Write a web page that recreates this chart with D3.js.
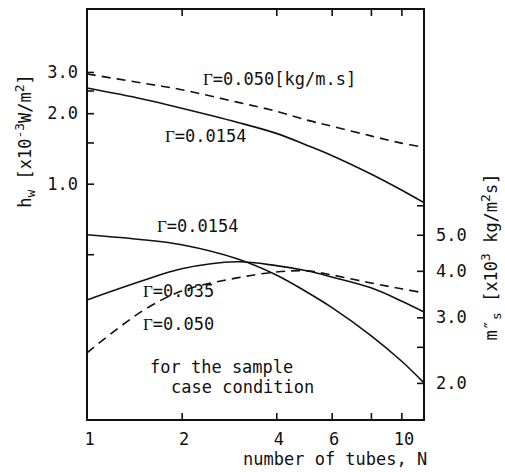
<!DOCTYPE html>
<html>
<head>
<meta charset="utf-8">
<script src="https://cdn.jsdelivr.net/npm/d3@7"></script>
<style>
body { margin: 0; background: #fff; }
svg text { font-family: "DejaVu Sans Mono", monospace; font-size: 17px; fill: #111; }
.gam { font-family: "Liberation Serif", serif; }
</style>
</head>
<body>
<div id="chart"></div>
<script>
// number of tubes N (log axis)
var nTubes = [1, 1.5, 2, 3, 4, 5, 6, 8, 10, 11.8];

// heat transfer coefficient h_w [x10^-3 W/m2], left axis
var hw0154 = [2.56, 2.30, 2.10, 1.83, 1.64, 1.46, 1.32, 1.10, 0.94, 0.83];
var hw050  = [2.94, 2.69, 2.52, 2.23, 2.04, 1.87, 1.76, 1.60, 1.49, 1.43];

// mass flux m''_s [x10^3 kg/m2 s], right axis
var ms0154 = [5.00, 4.85, 4.70, 4.31, 3.90, 3.51, 3.19, 2.68, 2.29, 2.00];
var ms035  = [3.34, 3.76, 4.05, 4.23, 4.13, 4.00, 3.85, 3.60, 3.32, 3.10];
var ms050  = [2.41, 3.12, 3.53, 3.83, 3.97, 4.00, 3.90, 3.71, 3.58, 3.49];

var xTicks = [2, 4, 6, 8, 10];
var xTickLabels = [1, 2, 4, 6, 10];
var hwTicks = [0.5, 1, 1.5, 2, 2.5, 3];
var hwTickLabels = [1, 2, 3];
var msTicks = [2, 2.5, 3, 4, 5, 6];
var msTickLabels = [2, 3, 4, 5];

var dim = { width: 505, height: 472 };
var box = { left: 87, right: 424, top: 9, bottom: 420 };

var svg = d3.select("#chart").append("svg")
    .attr("width", dim.width)
    .attr("height", dim.height);

var xScale = d3.scaleLog().domain([1, 11.8]).range([box.left, box.right]);
var hScale = d3.scaleLog().domain([0.098, 5.57]).range([box.bottom, box.top]);
var mScale = d3.scaleLog().domain([1.59, 20.2]).range([box.bottom, box.top]);

function styleAxis(g) {
    g.select(".domain").remove();
    g.selectAll(".tick line").attr("stroke", "#111").attr("stroke-width", 1.6);
    g.selectAll("text").attr("fill", "#111").attr("font-family", null).attr("font-size", null);
    g.attr("font-family", null).attr("font-size", null);
}

// tick marks (pointing inwards)
svg.append("g").attr("transform", "translate(0," + box.bottom + ")")
    .call(d3.axisBottom(xScale).tickValues(xTicks).tickSize(-7).tickFormat(""))
    .call(styleAxis);
svg.append("g").attr("transform", "translate(0," + box.top + ")")
    .call(d3.axisTop(xScale).tickValues(xTicks).tickSize(-7).tickFormat(""))
    .call(styleAxis);
svg.append("g").attr("transform", "translate(" + box.left + ",0)")
    .call(d3.axisLeft(hScale).tickValues(hwTicks).tickSize(-7).tickFormat(""))
    .call(styleAxis);
svg.append("g").attr("transform", "translate(" + box.right + ",0)")
    .call(d3.axisRight(mScale).tickValues(msTicks).tickSize(-7).tickFormat(""))
    .call(styleAxis);

// tick labels
svg.append("g").attr("transform", "translate(2," + box.bottom + ")")
    .call(d3.axisBottom(xScale).tickValues(xTickLabels).tickSize(0).tickPadding(13).tickFormat(d3.format("d")))
    .call(styleAxis);
svg.append("g").attr("transform", "translate(" + box.left + ",0)")
    .call(d3.axisLeft(hScale).tickValues(hwTickLabels).tickSize(0).tickPadding(9).tickFormat(d3.format(".1f")))
    .call(styleAxis);
svg.append("g").attr("transform", "translate(" + box.right + ",0)")
    .call(d3.axisRight(mScale).tickValues(msTickLabels).tickSize(0).tickPadding(12).tickFormat(d3.format(".1f")))
    .call(styleAxis);

// frame
svg.append("rect")
    .attr("x", box.left).attr("y", box.top)
    .attr("width", box.right - box.left).attr("height", box.bottom - box.top)
    .attr("fill", "none").attr("stroke", "#111").attr("stroke-width", 2);

var hLine = d3.line()
    .x((d, i) => xScale(nTubes[i]))
    .y(d => hScale(d))
    .curve(d3.curveCatmullRom.alpha(0.5));
var mLine = d3.line()
    .x((d, i) => xScale(nTubes[i]))
    .y(d => mScale(d))
    .curve(d3.curveCatmullRom.alpha(0.5));

var curves = [
    { values: hw0154, line: hLine, dash: null },
    { values: hw050, line: hLine, dash: "9,6" },
    { values: ms0154, line: mLine, dash: null },
    { values: ms035, line: mLine, dash: null },
    { values: ms050, line: mLine, dash: "9,6" }
];

svg.selectAll("path.curve")
    .data(curves).enter()
    .append("path")
    .attr("class", "curve")
    .attr("d", d => d.line(d.values))
    .attr("fill", "none")
    .attr("stroke", "#111")
    .attr("stroke-width", 1.6)
    .attr("stroke-dasharray", d => d.dash);

// curve labels
function gammaLabel(x, y, rest) {
    var t = svg.append("text").attr("x", x).attr("y", y);
    t.append("tspan").attr("class", "gam").text("\u0393");
    t.append("tspan").text(rest);
}
gammaLabel(203, 85, "=0.050[kg/m.s]");
gammaLabel(165, 142, "=0.0154");
gammaLabel(157, 232, "=0.0154");
gammaLabel(143, 297, "=0.035");
gammaLabel(143, 330, "=0.050");

svg.append("text").attr("x", 150).attr("y", 373).text("for the sample");
svg.append("text").attr("x", 171).attr("y", 393).text("case condition");

// axis titles
svg.append("text").attr("x", 243).attr("y", 465).text("number of tubes, N");

var lt = svg.append("text")
    .attr("transform", "translate(31,141) rotate(-90)")
    .attr("text-anchor", "middle");
lt.append("tspan").text("h");
lt.append("tspan").attr("dy", 4).attr("font-size", 13).text("w");
lt.append("tspan").attr("dy", -4).text(" [x10");
lt.append("tspan").attr("dy", -7).attr("font-size", 13).text("-3");
lt.append("tspan").attr("dy", 7).text("W/m");
lt.append("tspan").attr("dy", -7).attr("font-size", 13).text("2");
lt.append("tspan").attr("dy", 7).text("]");

var rt = svg.append("text")
    .attr("transform", "translate(497,257) rotate(-90)")
    .attr("text-anchor", "middle");
rt.append("tspan").text("m\u2033");
rt.append("tspan").attr("dy", 4).attr("font-size", 13).text("s");
rt.append("tspan").attr("dy", -4).text(" [x10");
rt.append("tspan").attr("dy", -7).attr("font-size", 13).text("3");
rt.append("tspan").attr("dy", 7).text(" kg/m");
rt.append("tspan").attr("dy", -7).attr("font-size", 13).text("2");
rt.append("tspan").attr("dy", 7).text("s]");
</script>
</body>
</html>
